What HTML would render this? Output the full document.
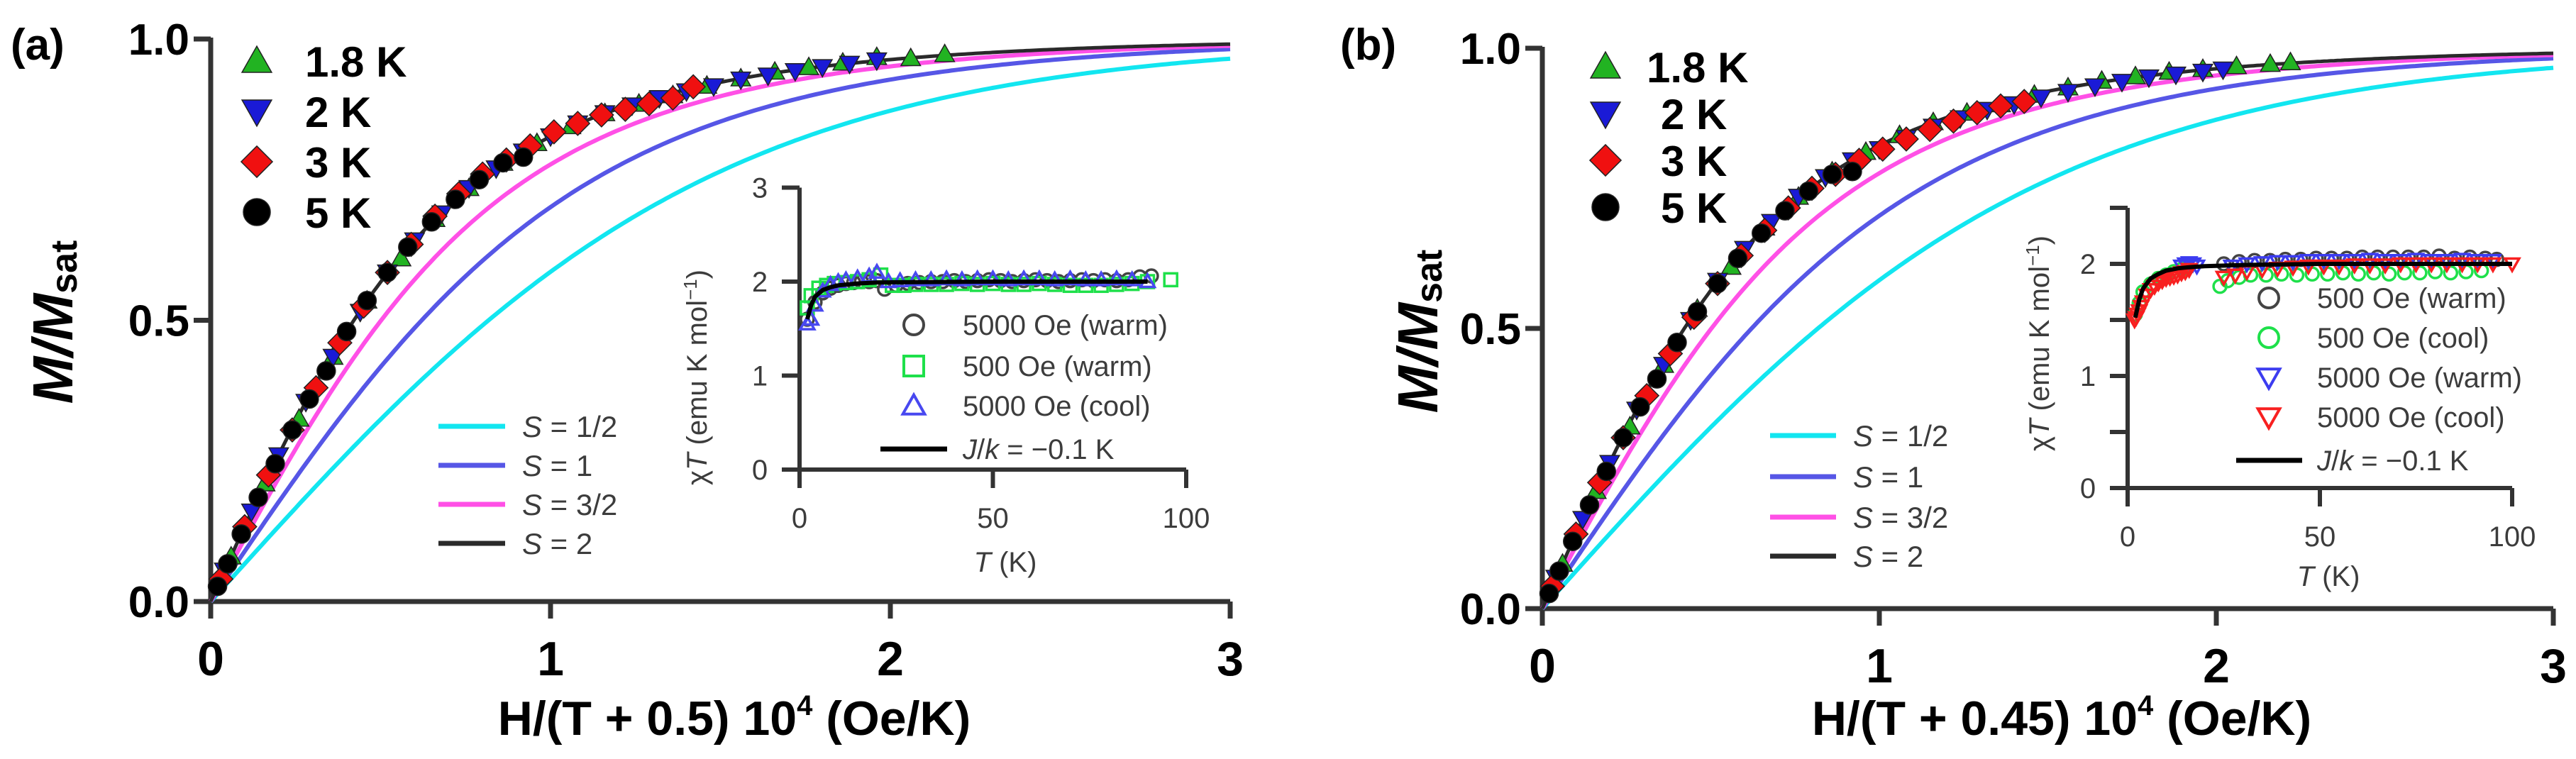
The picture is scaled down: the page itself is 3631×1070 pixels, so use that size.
<!DOCTYPE html>
<html><head><meta charset="utf-8">
<style>
html,body{margin:0;padding:0;background:#fff;}
svg{display:block;font-family:"Liberation Sans",Arial,sans-serif;}
.b{font-weight:bold;fill:#000;}
.g{fill:#3c3c3c;}
</style></head>
<body>
<svg id="fig" width="3631" height="1070" viewBox="0 0 3631 1070" xmlns="http://www.w3.org/2000/svg">
<rect width="3631" height="1070" fill="#fff"/>
<text class="b" x="15" y="84" font-size="62">(a)</text>
<text class="b" transform="translate(102,454) rotate(-90)" text-anchor="middle" font-size="80"><tspan font-style="italic">M/M</tspan><tspan font-size="52" dy="6">sat</tspan></text>
<text class="b" x="1035" y="1036" text-anchor="middle" font-size="68">H/(T + 0.5) 10<tspan font-size="40" dy="-28">4</tspan><tspan dy="28"> (Oe/K)</tspan></text>
<text class="g" transform="translate(996,532) rotate(-90)" text-anchor="middle" font-size="40">χ<tspan font-style="italic">T</tspan> (emu K mol<tspan font-size="26" dy="-14">−1</tspan><tspan dy="14">)</tspan></text>
<text class="g" x="1417" y="806" text-anchor="middle" font-size="40"><tspan font-style="italic">T</tspan> (K)</text>
<text class="b" x="1889" y="84" font-size="62">(b)</text>
<text class="b" transform="translate(2026,467) rotate(-90)" text-anchor="middle" font-size="80"><tspan font-style="italic">M/M</tspan><tspan font-size="52" dy="6">sat</tspan></text>
<text class="b" x="2906" y="1036" text-anchor="middle" font-size="68">H/(T + 0.45) 10<tspan font-size="40" dy="-28">4</tspan><tspan dy="28"> (Oe/K)</tspan></text>
<text class="g" transform="translate(2888,484) rotate(-90)" text-anchor="middle" font-size="40">χ<tspan font-style="italic">T</tspan> (emu K mol<tspan font-size="26" dy="-14">−1</tspan><tspan dy="14">)</tspan></text>
<text class="g" x="3282" y="826" text-anchor="middle" font-size="40"><tspan font-style="italic">T</tspan> (K)</text>
</svg>
<script>
const mainXTicks = [0, 1, 2, 3];
const mainXTickLabels = ["0", "1", "2", "3"];
const mainYTicks = [0, 0.5, 1.0];
const mainYTickLabels = ["0.0", "0.5", "1.0"];
const spinValues = [0.5, 1, 1.5, 2];
const spinLabels = ["1/2", "1", "3/2", "2"];
const tempLabels = ["1.8 K", "2 K", "3 K", "5 K"];

const a18x = [0.06,0.16,0.26,0.36,0.46,0.56,0.66,0.76,0.86,0.96,1.06,1.16,1.26,1.36,1.46,1.56,1.66,1.76,1.86,1.96,2.06,2.16];
const a18y = [0.08,0.21,0.325,0.435,0.535,0.61,0.68,0.735,0.78,0.815,0.845,0.868,0.885,0.90,0.917,0.93,0.942,0.95,0.958,0.968,0.966,0.973];
const a2x = [0.04,0.12,0.2,0.28,0.36,0.44,0.52,0.6,0.68,0.76,0.84,0.92,1.0,1.08,1.16,1.24,1.32,1.4,1.48,1.56,1.64,1.72,1.8,1.88,1.96];
const a2y = [0.055,0.16,0.26,0.355,0.435,0.515,0.585,0.642,0.69,0.735,0.77,0.80,0.827,0.85,0.868,0.882,0.895,0.907,0.916,0.928,0.935,0.943,0.95,0.956,0.962];
const a3x = [0.03,0.1,0.17,0.24,0.31,0.38,0.45,0.52,0.59,0.66,0.73,0.8,0.87,0.94,1.01,1.08,1.15,1.22,1.29,1.36,1.42];
const a3y = [0.04,0.133,0.225,0.305,0.38,0.46,0.525,0.585,0.635,0.685,0.725,0.76,0.785,0.81,0.835,0.85,0.865,0.875,0.885,0.895,0.915];
const a5x = [0.02,0.05,0.09,0.14,0.19,0.24,0.29,0.34,0.40,0.46,0.52,0.58,0.65,0.72,0.79,0.86,0.92];
const a5y = [0.027,0.067,0.12,0.185,0.245,0.305,0.36,0.41,0.48,0.535,0.585,0.63,0.675,0.715,0.75,0.78,0.79];

const b18x = [0.06,0.16,0.26,0.36,0.46,0.56,0.66,0.76,0.86,0.96,1.06,1.16,1.26,1.36,1.46,1.56,1.66,1.76,1.86,1.96,2.06,2.16,2.22];
const b18y = [0.08,0.21,0.325,0.435,0.535,0.61,0.68,0.735,0.78,0.815,0.845,0.868,0.885,0.90,0.917,0.93,0.942,0.95,0.958,0.963,0.968,0.972,0.975];
const b2x = [0.04,0.12,0.2,0.28,0.36,0.44,0.52,0.6,0.68,0.76,0.84,0.92,1.0,1.08,1.16,1.24,1.32,1.4,1.48,1.56,1.64,1.72,1.8,1.88,1.96,2.02];
const b2y = [0.055,0.16,0.26,0.355,0.435,0.515,0.585,0.642,0.69,0.735,0.77,0.80,0.82,0.84,0.86,0.875,0.89,0.90,0.912,0.922,0.932,0.94,0.948,0.953,0.958,0.962];
const b3x = [0.03,0.1,0.17,0.24,0.31,0.38,0.45,0.52,0.59,0.66,0.73,0.8,0.87,0.94,1.01,1.08,1.15,1.22,1.29,1.36,1.43];
const b3y = [0.04,0.133,0.225,0.305,0.38,0.455,0.52,0.58,0.63,0.675,0.715,0.75,0.775,0.80,0.82,0.838,0.855,0.87,0.885,0.897,0.905];
const b5x = [0.02,0.05,0.09,0.14,0.19,0.24,0.29,0.34,0.40,0.46,0.52,0.58,0.65,0.72,0.79,0.86,0.92];
const b5y = [0.027,0.067,0.12,0.185,0.245,0.305,0.36,0.41,0.475,0.53,0.58,0.625,0.67,0.71,0.745,0.775,0.78];

const iaYTicks = [0, 1, 2, 3];
const iaYTickLabels = ["0", "1", "2", "3"];
const insetXTicks = [0, 50, 100];
const insetXTickLabels = ["0", "50", "100"];
const iaCircT = [2,4,6,8,10,12,14,16,18,20,22,25,28,31,34,37,40,43,46,49,52,55,58,61,64,67,70,73,76,79,82,85,88,91];
const iaCircV = [1.6,1.78,1.88,1.93,1.96,1.98,1.99,2.0,2.0,2.01,1.92,1.96,1.98,1.99,2.0,2.0,2.01,2.0,2.01,2.02,2.01,2.0,2.01,2.02,2.01,2.0,2.01,2.02,2.01,2.02,2.01,2.02,2.05,2.06];
const iaSqT = [2,3,5,7,9,12,15,18,21,24,27,30,34,38,42,46,50,54,58,62,66,70,74,78,82,86,90,96];
const iaSqV = [1.72,1.85,1.93,1.96,1.98,1.99,2.0,2.02,2.07,1.96,1.96,1.97,1.97,1.97,1.98,1.97,1.98,1.97,1.97,1.98,1.97,1.96,1.96,1.96,1.97,1.98,2.0,2.02];
const iaTriT = [2,3,4,6,8,10,12,15,18,20,23,26,30,34,38,42,46,50,54,58,62,66,70,74,78,82,86,90];
const iaTriV = [1.55,1.6,1.75,1.9,1.97,2.0,2.02,2.04,2.06,2.1,2.0,2.01,2.02,2.02,2.03,2.02,2.03,2.03,2.02,2.03,2.03,2.02,2.03,2.02,2.02,2.03,2.02,2.0];
const iaFitT = [2,3,4,6,8,10,15,20,30,50,70,90];
const iaFitV = [1.6,1.75,1.84,1.91,1.94,1.96,1.98,1.99,1.995,2.0,2.0,2.0];

const ibYTicks = [0, 0.5, 1, 1.5, 2, 2.5];
const ibYTickLabels = ["0", "", "1", "", "2", ""];
const ibBlkT = [25,29,33,37,41,45,49,53,57,61,65,69,73,77,81,85,89,93,96];
const ibBlkV = [2.0,2.02,2.03,2.03,2.04,2.04,2.05,2.05,2.05,2.06,2.06,2.06,2.06,2.06,2.07,2.05,2.06,2.05,2.04];
const ibGrnT = [2,3,4,6,8,10,12,14,24,26,29,32,36,40,44,48,52,56,60,64,68,72,76,80,84,88,92];
const ibGrnV = [1.55,1.65,1.75,1.82,1.87,1.9,1.93,1.95,1.8,1.85,1.88,1.9,1.9,1.91,1.9,1.91,1.91,1.92,1.91,1.92,1.91,1.92,1.92,1.93,1.92,1.93,1.94];
const ibBluT = [14,15,16,17,18,27,31,35,39,43,47,51,55,59,63,67,71,75,79,83,87,91,95];
const ibBluV = [1.98,2.0,2.01,2.0,1.98,1.98,2.0,2.01,2.02,2.02,2.03,2.03,2.03,2.03,2.04,2.03,2.03,2.04,2.03,2.03,2.04,2.03,2.03];
const ibRedT = [1.8,2.2,2.6,3,3.5,4,5,6,7,8,9,10,11,12,13,14,15,16,25,28,31,35,39,43,47,51,55,59,63,67,71,75,79,83,87,91,95,100];
const ibRedV = [1.5,1.52,1.55,1.58,1.62,1.66,1.72,1.77,1.8,1.83,1.85,1.87,1.88,1.89,1.9,1.92,1.93,1.95,1.88,1.9,1.93,1.95,1.96,1.97,1.98,1.98,1.98,1.99,1.99,1.99,2.0,2.0,2.0,2.0,2.0,2.0,2.0,2.0];
const ibFitT = [2,3,4,6,8,10,13,16,20,30,50,70,100];
const ibFitV = [1.52,1.68,1.78,1.87,1.91,1.94,1.96,1.97,1.98,1.99,2.0,2.0,2.0];

const svg = document.getElementById('fig');
const NS = 'http://www.w3.org/2000/svg';
function mk(tag, attrs, parent) {
  const e = document.createElementNS(NS, tag);
  for (const k in attrs) e.setAttribute(k, attrs[k]);
  (parent || svg).appendChild(e);
  return e;
}
function brill(S, x) {
  const a = 1.3434 * S * x;
  if (a < 1e-6) return 0;
  const c1 = (2 * S + 1) / (2 * S), c2 = 1 / (2 * S);
  return c1 / Math.tanh(c1 * a) - c2 / Math.tanh(c2 * a);
}
const spinColors = ['#12e6f0', '#5656e6', '#ff50e6', '#2a2a2a'];

function marker(g, type, cx, cy, s, fill, stroke, sw) {
  let e;
  if (type === 'circle') e = mk('circle', {cx: cx, cy: cy, r: s / 2, fill: fill, stroke: stroke, 'stroke-width': sw}, g);
  else if (type === 'up') e = mk('polygon', {points: `${cx},${cy - s * 0.55} ${cx - s * 0.55},${cy + s * 0.42} ${cx + s * 0.55},${cy + s * 0.42}`, fill: fill, stroke: stroke, 'stroke-width': sw}, g);
  else if (type === 'down') e = mk('polygon', {points: `${cx},${cy + s * 0.55} ${cx - s * 0.55},${cy - s * 0.42} ${cx + s * 0.55},${cy - s * 0.42}`, fill: fill, stroke: stroke, 'stroke-width': sw}, g);
  else if (type === 'diamond') e = mk('polygon', {points: `${cx},${cy - s * 0.58} ${cx + s * 0.58},${cy} ${cx},${cy + s * 0.58} ${cx - s * 0.58},${cy}`, fill: fill, stroke: stroke, 'stroke-width': sw}, g);
  else e = mk('rect', {x: cx - s / 2, y: cy - s / 2, width: s, height: s, fill: fill, stroke: stroke, 'stroke-width': sw}, g);
  return e;
}

function drawMain(p) {
  const g = mk('g', {});
  
  
  const X = v => p.x0 + v * p.ux;
  const Y = v => p.y0 - v * (p.y0 - p.y1);
  const ax = mk('path', {d: `M${X(0)},${Y(1) - 2} L${X(0)},${p.y0} M${X(0) - 24},${p.y0} L${X(3)},${p.y0}`, stroke: '#333', 'stroke-width': 7, fill: 'none'}, g);
  
  
  mainYTicks.forEach((t, i) => {
    const tk = mk('line', {x1: X(0) - 24, x2: X(0), y1: Y(t), y2: Y(t), stroke: '#333', 'stroke-width': 7}, g);
    
    
    const tl = mk('text', {x: X(0) - 30, y: Y(t) + 22, 'text-anchor': 'end', 'font-size': 62, class: 'b'}, g);
    tl.textContent = mainYTickLabels[i];
    
    
  });
  mainXTicks.forEach((t, i) => {
    const tk = mk('line', {x1: X(t), x2: X(t), y1: p.y0, y2: p.y0 + 24, stroke: '#333', 'stroke-width': 7}, g);
    
    
    const tl = mk('text', {x: X(t), y: p.y0 + 104, 'text-anchor': 'middle', 'font-size': 68, class: 'b'}, g);
    tl.textContent = mainXTickLabels[i];
    
    
  });
  spinValues.forEach((S, si) => {
    let d = '';
    for (let k = 0; k <= 300; k++) {
      const xv = 3 * k / 300;
      d += (k ? 'L' : 'M') + X(xv).toFixed(1) + ',' + Y(brill(S, xv)).toFixed(1);
    }
    const c = mk('path', {d: d, fill: 'none', stroke: spinColors[si], 'stroke-width': si === 3 ? 5 : 6}, g);
    
    
  });
  const series = [
    {xs: p.d18x, ys: p.d18y, t: 'up', f: '#22b322', s: 25, n: '1-8k'},
    {xs: p.d2x, ys: p.d2y, t: 'down', f: '#1a1ad6', s: 25, n: '2k'},
    {xs: p.d3x, ys: p.d3y, t: 'diamond', f: '#f01010', s: 29, n: '3k'},
    {xs: p.d5x, ys: p.d5y, t: 'circle', f: '#000', s: 26, n: '5k'}
  ];
  series.forEach(se => {
    const sg = mk('g', {}, g);
    
    
    se.xs.forEach((xv, i) => {
      const m = marker(sg, se.t, X(xv), Y(se.ys[i]), se.s, se.f, '#222', 1.5);
      
      
    });
  });
  const types = ['up', 'down', 'diamond', 'circle'];
  const fills = ['#22b322', '#1a1ad6', '#f01010', '#000'];
  tempLabels.forEach((lab, i) => {
    const ry = p.legRows[i];
    const m = marker(g, types[i], p.legMx, ry, 38, fills[i], '#222', 1.5);
    
    
    const t = mk('text', {x: p.legTx + (i ? p.legIndent : 0), y: ry + 22, 'font-size': 60, class: 'b'}, g);
    t.textContent = lab;
    
    
  });
  spinLabels.forEach((lab, i) => {
    const ry = p.sRows[i];
    const l = mk('line', {x1: p.sx1, x2: p.sx2, y1: ry, y2: ry, stroke: spinColors[i], 'stroke-width': 7}, g);
    
    
    const t = mk('text', {x: p.sx2 + 24, y: ry + 15, 'font-size': 42, class: 'g'}, g);
    t.innerHTML = '<tspan font-style="italic">S</tspan> = ' + lab;
    
    
  });
}

drawMain({name: 'panel-a', x0: 297, ux: 479, y0: 848, y1: 55,
  d18x: a18x, d18y: a18y, d2x: a2x, d2y: a2y, d3x: a3x, d3y: a3y, d5x: a5x, d5y: a5y,
  legRows: [86, 157, 228, 299], legMx: 362, legTx: 430, legIndent: 0,
  sRows: [601, 656, 711, 766], sx1: 618, sx2: 712});
drawMain({name: 'panel-b', x0: 2174, ux: 475, y0: 858, y1: 68,
  d18x: b18x, d18y: b18y, d2x: b2x, d2y: b2y, d3x: b3x, d3y: b3y, d5x: b5x, d5y: b5y,
  legRows: [94, 160, 226, 292], legMx: 2263, legTx: 2321, legIndent: 20,
  sRows: [614, 672, 729, 784], sx1: 2495, sx2: 2588});

function drawInset(p) {
  const g = mk('g', {});
  
  
  const X = v => p.x0 + v * (p.x100 - p.x0) / 100;
  const Y = v => p.y0 - v * p.uy;
  const ax = mk('path', {d: `M${X(0)},${Y(p.ymax)} L${X(0)},${p.y0 + 26} M${X(0) - 25},${p.y0} L${X(100)},${p.y0}`, stroke: '#333', 'stroke-width': 6, fill: 'none'}, g);
  
  
  p.yt.forEach((t, i) => {
    const tk = mk('line', {x1: X(0) - 25, x2: X(0), y1: Y(t), y2: Y(t), stroke: '#333', 'stroke-width': 6}, g);
    
    
    if (p.ytl[i]) {
      const tl = mk('text', {x: X(0) - 56, y: Y(t) + 14, 'text-anchor': 'middle', 'font-size': 40, class: 'g'}, g);
      tl.textContent = p.ytl[i];
      
      
    }
  });
  insetXTicks.forEach((t, i) => {
    const tk = mk('line', {x1: X(t), x2: X(t), y1: p.y0, y2: p.y0 + 26, stroke: '#333', 'stroke-width': 6}, g);
    
    
    const tl = mk('text', {x: X(t), y: p.y0 + 82, 'text-anchor': 'middle', 'font-size': 40, class: 'g'}, g);
    tl.textContent = insetXTickLabels[i];
    
    
  });
  p.series.forEach(se => {
    const sg = mk('g', {}, g);
    
    
    se.t.forEach((tv, i) => {
      const m = marker(sg, se.type, X(tv), Y(se.v[i]), 18, 'none', se.c, 3.5);
      
      
    });
  });
  let d = '';
  p.fitT.forEach((tv, i) => { d += (i ? 'L' : 'M') + X(tv).toFixed(1) + ',' + Y(p.fitV[i]).toFixed(1); });
  const fl = mk('path', {d: d, fill: 'none', stroke: '#000', 'stroke-width': 6}, g);
  
  
  p.series.forEach((se, i) => {
    const ry = p.legRows[i];
    const m = marker(g, se.type, p.legMx, ry, 28, 'none', se.c, 4);
    
    
    const t = mk('text', {x: p.legTx, y: ry + 14, 'font-size': 40, class: 'g'}, g);
    t.textContent = se.label;
    
    
  });
  const ll = mk('line', {x1: p.lx1, x2: p.lx2, y1: p.ly, y2: p.ly, stroke: '#000', 'stroke-width': 7}, g);
  
  
  const lt = mk('text', {x: p.legTx, y: p.ly + 14, 'font-size': 40, class: 'g'}, g);
  lt.innerHTML = '<tspan font-style="italic">J</tspan>/<tspan font-style="italic">k</tspan> = −0.1 K';
  
  
}

drawInset({name: 'panel-a', x0: 1127, x100: 1672, y0: 662, uy: 132.5, ymax: 3,
  yt: iaYTicks, ytl: iaYTickLabels,
  series: [
    {t: iaCircT, v: iaCircV, type: 'circle', c: '#444', n: '5000-oe-warm', label: '5000 Oe (warm)'},
    {t: iaSqT, v: iaSqV, type: 'square', c: '#1ee04a', n: '500-oe-warm', label: '500 Oe (warm)'},
    {t: iaTriT, v: iaTriV, type: 'up', c: '#4848f0', n: '5000-oe-cool', label: '5000 Oe (cool)'}
  ],
  fitT: iaFitT, fitV: iaFitV,
  legRows: [458, 516, 572], legMx: 1288, legTx: 1357, lx1: 1241, lx2: 1335, ly: 633});
drawInset({name: 'panel-b', x0: 2999, x100: 3541, y0: 688, uy: 158, ymax: 2.5,
  yt: ibYTicks, ytl: ibYTickLabels,
  series: [
    {t: ibBlkT, v: ibBlkV, type: 'circle', c: '#444', n: '500-oe-warm', label: '500 Oe (warm)'},
    {t: ibGrnT, v: ibGrnV, type: 'circle', c: '#1ee04a', n: '500-oe-cool', label: '500 Oe (cool)'},
    {t: ibBluT, v: ibBluV, type: 'down', c: '#3c3cf0', n: '5000-oe-warm', label: '5000 Oe (warm)'},
    {t: ibRedT, v: ibRedV, type: 'down', c: '#f82020', n: '5000-oe-cool', label: '5000 Oe (cool)'}
  ],
  fitT: ibFitT, fitV: ibFitV,
  legRows: [420, 476, 532, 588], legMx: 3198, legTx: 3266, lx1: 3152, lx2: 3245, ly: 649});
</script>
</body></html>
